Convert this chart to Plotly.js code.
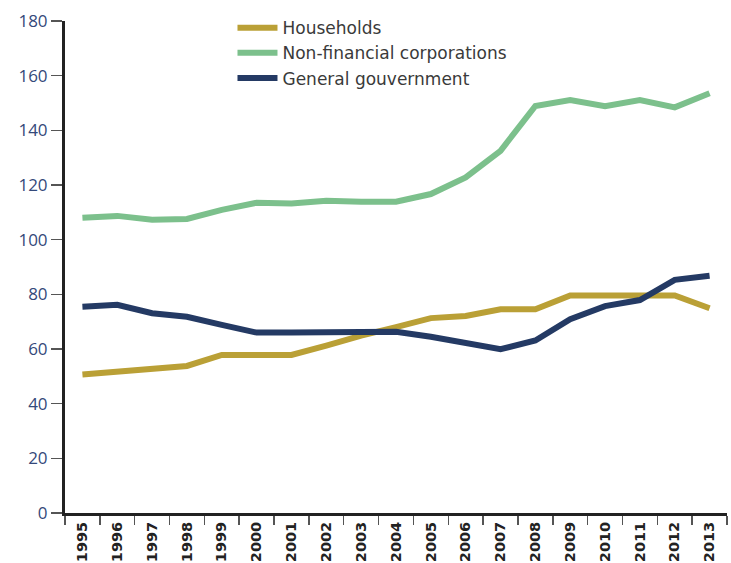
<!DOCTYPE html>
<html>
<head>
<meta charset="utf-8">
<script src="https://cdn.plot.ly/plotly-3.0.1.min.js"></script>
<style>html,body{margin:0;padding:0;background:#fff;}#chart{width:731px;height:563px;}</style>
</head>
<body>
<div id="chart"></div>
<script>
const years = ["1995","1996","1997","1998","1999","2000","2001","2002","2003","2004","2005","2006","2007","2008","2009","2010","2011","2012","2013"];
const households = [50.7, 51.9, 52.9, 53.8, 57.8, 57.8, 57.8, 61.2, 64.9, 68.0, 71.3, 72.1, 74.5, 74.5, 79.6, 79.6, 79.6, 79.6, 74.9];
const nonFinancial = [108.0, 108.7, 107.3, 107.6, 110.9, 113.5, 113.2, 114.2, 113.9, 113.9, 116.7, 122.8, 132.5, 148.9, 151.1, 148.8, 151.1, 148.4, 153.6];
const government = [75.5, 76.2, 73.1, 71.8, 68.8, 66.0, 66.0, 66.0, 66.0, 66.3, 64.5, 62.4, 59.9, 63.1, 70.9, 75.7, 77.9, 85.3, 86.8];
const seriesNames = ["Households", "Non-financial corporations", "General gouvernment"];

const traces = [
  {x: years, y: households, name: seriesNames[0], type: "scatter", mode: "lines", line: {color: "#baa036", width: 6}},
  {x: years, y: nonFinancial, name: seriesNames[1], type: "scatter", mode: "lines", line: {color: "#7cc08c", width: 6}},
  {x: years, y: government, name: seriesNames[2], type: "scatter", mode: "lines", line: {color: "#243a64", width: 6}}
];

const layout = {
  width: 731, height: 563,
  margin: {l: 65, r: 4, t: 21, b: 50},
  paper_bgcolor: "#ffffff", plot_bgcolor: "#ffffff",
  showlegend: true,
  legend: {x: 0.253, y: 1.022, xanchor: "left", yanchor: "top", bgcolor: "rgba(0,0,0,0)",
           itemwidth: 40,
           font: {family: "DejaVu Sans", size: 17, color: "#3a3a3a"}, tracegroupgap: 0},
  xaxis: {
    type: "category", tickangle: -90, tickson: "boundaries",
    ticks: "outside", ticklen: 9, tickwidth: 1.5, tickcolor: "#555",
    showline: true, linewidth: 3, linecolor: "#222", showgrid: false, zeroline: false,
    tickfont: {family: "DejaVu Sans", size: 14.5, color: "#222", weight: "bold"},
    range: [-0.5, 18.5]
  },
  yaxis: {
    range: [0, 180], dtick: 20, tick0: 0,
    ticks: "outside", ticklen: 11, tickwidth: 1.5, tickcolor: "#555",
    showline: true, linewidth: 3, linecolor: "#222", showgrid: false, zeroline: false,
    tickfont: {family: "Open Sans", size: 17, color: "#34497a"}
  }
};

Plotly.newPlot("chart", traces, layout, {displayModeBar: false, staticPlot: true});
</script>
</body>
</html>
